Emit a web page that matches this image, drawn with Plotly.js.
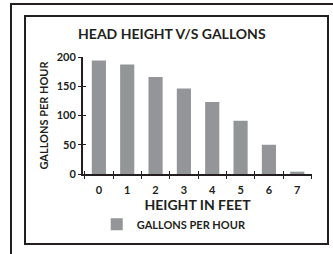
<!DOCTYPE html>
<html>
<head>
<meta charset="utf-8">
<script src="https://cdn.plot.ly/plotly-3.0.1.min.js"></script>
<style>
html,body{margin:0;padding:0;background:#fff;width:333px;height:254px;overflow:hidden;}
#outer{position:absolute;left:10px;top:3px;width:400px;height:400px;border:2px solid #231f20;box-sizing:border-box;}
#inner{position:absolute;left:24px;top:15px;width:305px;height:230px;border:2px solid #231f20;box-sizing:border-box;}
#chart{position:absolute;left:0;top:0;width:333px;height:254px;}
</style>
</head>
<body>
<div id="outer"></div>
<div id="inner"></div>
<div id="chart"></div>
<script>
const categories = ['0','1','2','3','4','5','6','7'];
const gallonsPerHour = [194, 187, 166, 146, 123, 91, 50, 4];
const yTicks = [0, 50, 100, 150, 200];
const seriesName = 'GALLONS PER HOUR';

const FONT = 'Lato, "Noto Sans", sans-serif';
const INK = '#231f20';

const data = [{
  type: 'bar',
  x: categories,
  y: gallonsPerHour,
  name: '<b>' + seriesName + '</b>',
  marker: {color: '#939598'},
  showlegend: true
}, {
  // transparent copy on overlay axes so their crossing ticks are drawn
  type: 'bar', x: categories, y: gallonsPerHour, xaxis: 'x2', yaxis: 'y2',
  marker: {color: 'rgba(0,0,0,0)'}, showlegend: false, hoverinfo: 'skip'
}];

const layout = {
  width: 333, height: 254,
  margin: {l: 83, r: 21, t: 57, b: 80},
  paper_bgcolor: 'rgba(0,0,0,0)',
  plot_bgcolor: 'rgba(0,0,0,0)',
  font: {family: FONT, color: INK},
  bargap: 0.5,
  title: {text: '<b>HEAD HEIGHT V/S GALLONS</b>', font: {size: 14, family: FONT, color: INK},
          x: 0.516, xanchor: 'center', y: 0.866, yanchor: 'middle'},
  xaxis: {
    type: 'category', range: [-0.56, 7.52],
    showline: true, linecolor: INK, linewidth: 2,
    ticks: 'outside', ticklen: 3, tickwidth: 1, tickcolor: INK,
    tickson: 'boundaries',
    showgrid: false, zeroline: false,
    tickfont: {size: 11, family: FONT, color: INK, weight: 'bold'},
    ticklabelstandoff: 5,
    title: {text: '<b>HEIGHT IN FEET</b>', font: {size: 14, family: FONT, color: INK}, standoff: 3},
    fixedrange: true
  },
  xaxis2: {
    type: 'category', range: [-0.56, 7.52], overlaying: 'x', anchor: 'y', side: 'bottom',
    showline: false, ticks: 'inside', ticklen: 3, tickwidth: 1, tickcolor: INK,
    tickson: 'boundaries', showticklabels: false, showgrid: false, zeroline: false
  },
  yaxis: {
    range: [0, 200], tickvals: yTicks,
    showline: true, linecolor: INK, linewidth: 2,
    ticks: 'outside', ticklen: 3, tickwidth: 1, tickcolor: INK,
    showgrid: false, zeroline: false,
    tickfont: {size: 11, family: FONT, color: INK, weight: 'bold'},
    title: {text: '<b>GALLONS PER HOUR</b>', font: {size: 11, family: FONT, color: INK}, standoff: 6},
    fixedrange: true
  },
  yaxis2: {
    range: [0, 200], tickvals: yTicks, overlaying: 'y', side: 'left', anchor: 'x',
    showline: false, ticks: 'inside', ticklen: 3, tickwidth: 1, tickcolor: INK,
    showticklabels: false, showgrid: false, zeroline: false
  },
  legend: {
    orientation: 'h', x: 0.06, xanchor: 'left', y: -0.43, yanchor: 'middle',
    font: {size: 11, family: FONT, color: INK},
    bgcolor: 'rgba(0,0,0,0)'
  }
};

Plotly.newPlot('chart', data, layout, {staticPlot: true, displayModeBar: false});
</script>
</body>
</html>
